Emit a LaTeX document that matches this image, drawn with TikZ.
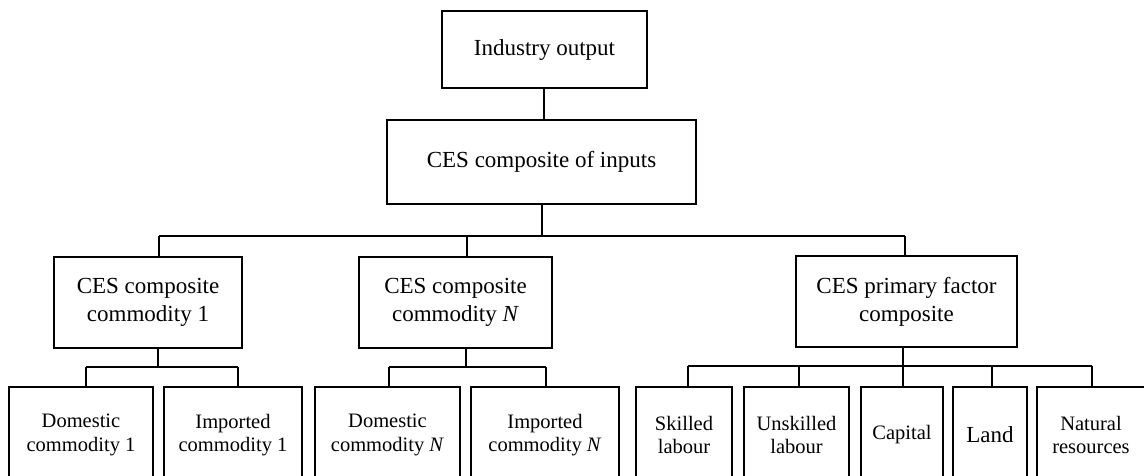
\documentclass[tikz,border=0pt]{standalone}
\usepackage{fontspec}
\setmainfont{Liberation Serif}
\begin{document}
\begin{tikzpicture}[x=1pt,y=-1pt,line width=1.1pt,
  box/.style={draw=black,rectangle,inner sep=0pt,align=center,font=\fontsize{23}{27.7}\selectfont},
  leaf/.style={box,minimum height=96pt,font=\fontsize{20.5}{23.3}\selectfont},
  link/.style={draw=black,line width=1.1pt}]
\useasboundingbox (0,0) rectangle (1144,475);
% boxes
\node[box,minimum width=205pt,minimum height=77pt] (top) at (544.5,49.5) {Industry output};
\node[box,minimum width=309pt,minimum height=84pt] (ces) at (541.5,162) {CES composite of inputs};
\node[box,minimum width=188pt,minimum height=91pt] (c1) at (148,302.5) {CES composite\\commodity 1};
\node[box,minimum width=193pt,minimum height=91pt] (cN) at (455.5,302.5) {CES composite\\commodity \textit{N}};
\node[box,minimum width=221pt,minimum height=91pt] (pf) at (906.5,301.5) {CES primary factor\\composite};
\node[leaf,minimum width=144pt] (d1) at (81,435) {Domestic\\commodity 1};
\node[leaf,minimum width=138pt] (i1) at (233,435) {Imported\\commodity 1};
\node[leaf,minimum width=145pt] (dN) at (387.5,435) {Domestic\\commodity \textit{N}};
\node[leaf,minimum width=148pt] (iN) at (545,435) {Imported\\commodity \textit{N}};
\node[leaf,minimum width=96pt] (sk) at (684,435) {Skilled\\labour};
\node[leaf,minimum width=105pt] (un) at (796.5,435) {Unskilled\\labour};
\node[leaf,minimum width=82pt] (cap) at (902,435) {Capital};
\node[leaf,minimum width=74pt,font=\fontsize{23}{27.7}\selectfont] (land) at (990,435) {Land};
\node[leaf,minimum width=108pt] (nat) at (1091,435) {Natural\\resources};
% junction coordinates
\coordinate (jT) at (544,88);
\coordinate (jA) at (542,236);
\coordinate (jA1) at (159,236);
\coordinate (jAN) at (467,236);
\coordinate (jAP) at (905,236);
\coordinate (jB) at (158,367);
\coordinate (jB1) at (86,367);
\coordinate (jB2) at (238,367);
\coordinate (jC) at (466,367);
\coordinate (jC1) at (389,367);
\coordinate (jC2) at (546,367);
\coordinate (jD) at (903,366);
\coordinate (jD1) at (688,366);
\coordinate (jD2) at (799,366);
\coordinate (jD3) at (992,366);
\coordinate (jD4) at (1092,366);
% connectors
\draw[link] (jT |- top.south) -- (jT |- ces.north);
\draw[link] (jA |- ces.south) -- (jA);
\draw[link] (jA1) -- (jAP);
\draw[link] (jA1) -- (jA1 |- c1.north);
\draw[link] (jAN) -- (jAN |- cN.north);
\draw[link] (jAP) -- (jAP |- pf.north);
\draw[link] (jB |- c1.south) -- (jB);
\draw[link] (jB1) -- (jB2);
\draw[link] (jB1) -- (jB1 |- d1.north);
\draw[link] (jB2) -- (jB2 |- i1.north);
\draw[link] (jC |- cN.south) -- (jC);
\draw[link] (jC1) -- (jC2);
\draw[link] (jC1) -- (jC1 |- dN.north);
\draw[link] (jC2) -- (jC2 |- iN.north);
\draw[link] (jD |- pf.south) -- (jD);
\draw[link] (jD1) -- (jD4);
\draw[link] (jD1) -- (jD1 |- sk.north);
\draw[link] (jD2) -- (jD2 |- un.north);
\draw[link] (jD) -- (jD |- cap.north);
\draw[link] (jD3) -- (jD3 |- land.north);
\draw[link] (jD4) -- (jD4 |- nat.north);
\end{tikzpicture}
\end{document}
